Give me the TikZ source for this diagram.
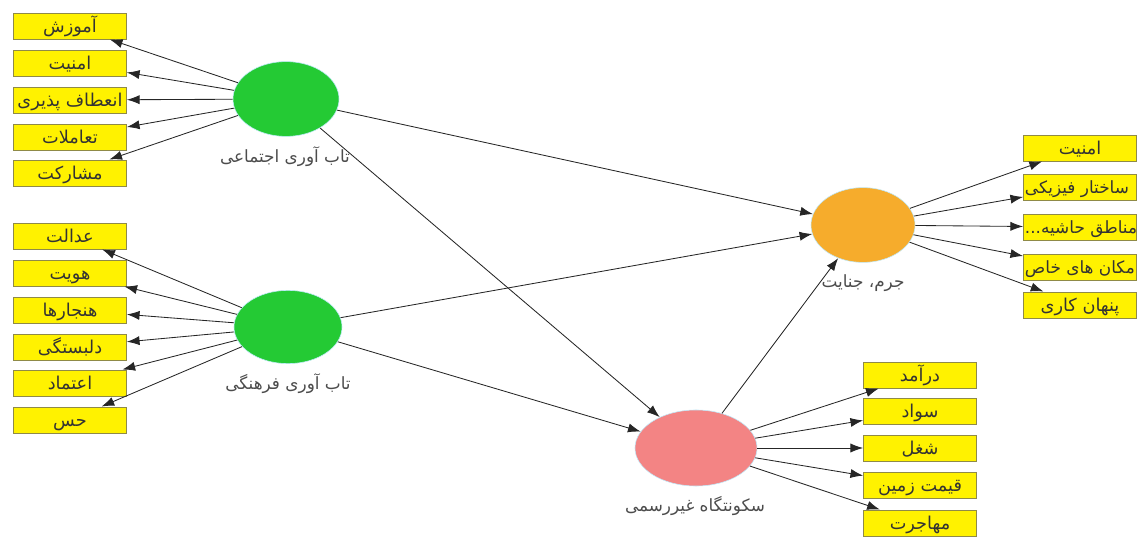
\documentclass[tikz,border=0pt]{standalone}
\usepackage{fontspec}
\setmainfont{DejaVu Sans}
\newfontfamily\arabicfont[Script=Arabic]{DejaVu Sans}
\TeXXeTstate=1
\usetikzlibrary{shapes.geometric,arrows.meta}
\definecolor{latgreen}{RGB}{36,202,52}
\definecolor{latorange}{RGB}{246,172,44}
\definecolor{latpink}{RGB}{243,132,132}
\newcommand{\fa}[1]{\arabicfont\beginR #1\endR}
\newcommand{\faleft}[1]{\makebox[2.75cm][l]{\fontsize{12}{14}\selectfont #1}}
\begin{document}
\begin{tikzpicture}[x=0.025cm,y=-0.025cm,
		item/.style={draw=yellow!50!black,fill=yellow,minimum width=2.83cm,minimum height=0.66cm,inner sep=0pt,text height=10.5pt,text depth=1.5pt,font=\fontsize{12.6}{14}\selectfont,text=black!80},
		latent/.style={ellipse,draw=cyan!25,line width=0.4pt,inner sep=0pt},
		caption/.style={font=\fontsize{12}{14}\selectfont,text=black!70},
		arr/.style={-{Latex[length=9pt,width=6.5pt]},draw=black!85,line width=0.6pt}]
	\useasboundingbox (0,0) rectangle (1139,538);
	\node[latent,fill=latgreen,minimum width=2.65cm,minimum height=1.87cm] (social) at (286,99) {};
	\node[latent,fill=latgreen,minimum width=2.7cm,minimum height=1.83cm] (culture) at (288,327) {};
	\node[latent,fill=latorange,minimum width=2.6cm,minimum height=1.87cm] (crime) at (863,225) {};
	\node[latent,fill=latpink,minimum width=3.05cm,minimum height=1.9cm] (slum) at (696,448) {};
	\node[caption] (socialtext) at (285,157) {\fa{تاب آوری اجتماعی}};
	\node[caption] (culturetext) at (288,384) {\fa{تاب آوری فرهنگی}};
	\node[caption] (crimetext) at (863,283) {\fa{جرم، جنایت}};
	\node[caption] (slumtext) at (695,506) {\fa{سکونتگاه غیررسمی}};
	\node[item] (a1) at (70,26) {\fa{آموزش}};
	\node[item] (a2) at (70,63) {\fa{امنیت}};
	\node[item] (a3) at (70,100) {\fa{انعطاف پذیری}};
	\node[item] (a4) at (70,137) {\fa{تعاملات}};
	\node[item] (a5) at (70,173) {\fa{مشارکت}};
	\node[item] (b1) at (70,236) {\fa{عدالت}};
	\node[item] (b2) at (70,273) {\fa{هویت}};
	\node[item] (b3) at (70,310) {\fa{هنجارها}};
	\node[item] (b4) at (70,347) {\fa{دلبستگی}};
	\node[item] (b5) at (70,383) {\fa{اعتماد}};
	\node[item] (b6) at (70,420) {\fa{حس}};
	\node[item] (c1) at (1080,148) {\fa{امنیت}};
	\node[item] (c2) at (1080,187) {\faleft{\fa{ساختار فیزیکی}}};
	\node[item] (c3) at (1080,227) {\faleft{...\fa{مناطق حاشیه}}};
	\node[item] (c4) at (1080,267) {\faleft{\fa{مکان های خاص}}};
	\node[item] (c5) at (1080,305) {\fa{پنهان کاری}};
	\node[item] (d1) at (920,375) {\fa{درآمد}};
	\node[item] (d2) at (920,411) {\fa{سواد}};
	\node[item] (d3) at (920,448) {\fa{شغل}};
	\node[item] (d4) at (920,485) {\fa{قیمت زمین}};
	\node[item] (d5) at (920,523) {\fa{مهاجرت}};
	\draw[arr] (social) -- (a1);
	\draw[arr] (social) -- (a2);
	\draw[arr] (social) -- (a3);
	\draw[arr] (social) -- (a4);
	\draw[arr] (social) -- (a5);
	\draw[arr] (culture) -- (b1);
	\draw[arr] (culture) -- (b2);
	\draw[arr] (culture) -- (b3);
	\draw[arr] (culture) -- (b4);
	\draw[arr] (culture) -- (b5);
	\draw[arr] (culture) -- (b6);
	\draw[arr] (crime) -- (c1);
	\draw[arr] (crime) -- (c2);
	\draw[arr] (crime) -- (c3);
	\draw[arr] (crime) -- (c4);
	\draw[arr] (crime) -- (c5);
	\draw[arr] (slum) -- (d1);
	\draw[arr] (slum) -- (d2);
	\draw[arr] (slum) -- (d3);
	\draw[arr] (slum) -- (d4);
	\draw[arr] (slum) -- (d5);
	\draw[arr] (social) -- (crime);
	\draw[arr] (social) -- (slum);
	\draw[arr] (culture) -- (crime);
	\draw[arr] (culture) -- (slum);
	\draw[arr] (slum) -- (crime);
\end{tikzpicture}
\end{document}
